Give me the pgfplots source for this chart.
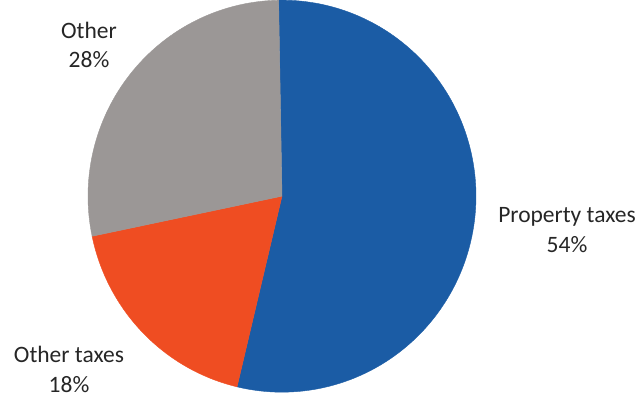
\documentclass[border=0pt]{standalone}
\usepackage{pgfplots}
\pgfplotsset{compat=1.18}
\usepackage{pgfplotstable}
\usepackage{fontspec}
\setmainfont{Carlito}
\definecolor{pblue}{HTML}{1B5CA5}
\definecolor{porange}{HTML}{EF4D22}
\definecolor{pgray}{HTML}{9B9796}
% share (%) of each slice, clockwise from 12 o'clock
\pgfplotstableread{
label value
Property 54
Othertaxes 18
Other 28
}\piedata
\begin{document}
\begin{tikzpicture}
\begin{axis}[
  x=1pt, y=1pt,
  xmin=0, xmax=639, ymin=0, ymax=398,
  hide axis, clip=false,
  scale only axis,
]
\addplot[draw=none] coordinates {(0,0) (639,398)};
% centre and radii of the pie; angles from the shares
\pgfmathsetmacro{\cx}{282}
\pgfmathsetmacro{\cy}{202}
\pgfmathsetmacro{\rx}{194}
\pgfmathsetmacro{\ry}{196}
\pgfplotstablegetelem{0}{value}\of\piedata \let\va\pgfplotsretval
\pgfplotstablegetelem{1}{value}\of\piedata \let\vb\pgfplotsretval
\pgfplotstablegetelem{2}{value}\of\piedata \let\vc\pgfplotsretval
\pgfmathsetmacro{\aA}{91}
\pgfmathsetmacro{\aB}{\aA-3.6*\va}
\pgfmathsetmacro{\aC}{\aB-3.6*\vb}
\pgfmathsetmacro{\aD}{\aC-3.6*\vc}
\addplot[fill=pblue, draw=pblue, domain=\aB:\aA, samples=120, variable=\t]
  ({\cx+\rx*cos(\t)},{\cy+\ry*sin(\t)}) -- (axis cs:\cx,\cy) -- cycle;
\addplot[fill=porange, draw=porange, domain=\aC:\aB, samples=60, variable=\t]
  ({\cx+\rx*cos(\t)},{\cy+\ry*sin(\t)}) -- (axis cs:\cx,\cy) -- cycle;
\addplot[fill=pgray, draw=pgray, domain=\aD:\aC, samples=80, variable=\t]
  ({\cx+\rx*cos(\t)},{\cy+\ry*sin(\t)}) -- (axis cs:\cx,\cy) -- cycle;
\tikzset{lbl/.style={anchor=base, inner sep=0pt, font=\fontsize{23.5}{28}\selectfont, text=black!85}}
\node[lbl] at (axis cs:89,360) {Other};
\node[lbl] at (axis cs:89,331) {28\%};
\node[lbl] at (axis cs:567,176) {Property taxes};
\node[lbl] at (axis cs:567,146) {54\%};
\node[lbl] at (axis cs:69,36) {Other taxes};
\node[lbl] at (axis cs:69,6) {18\%};
\end{axis}
\end{tikzpicture}
\end{document}
